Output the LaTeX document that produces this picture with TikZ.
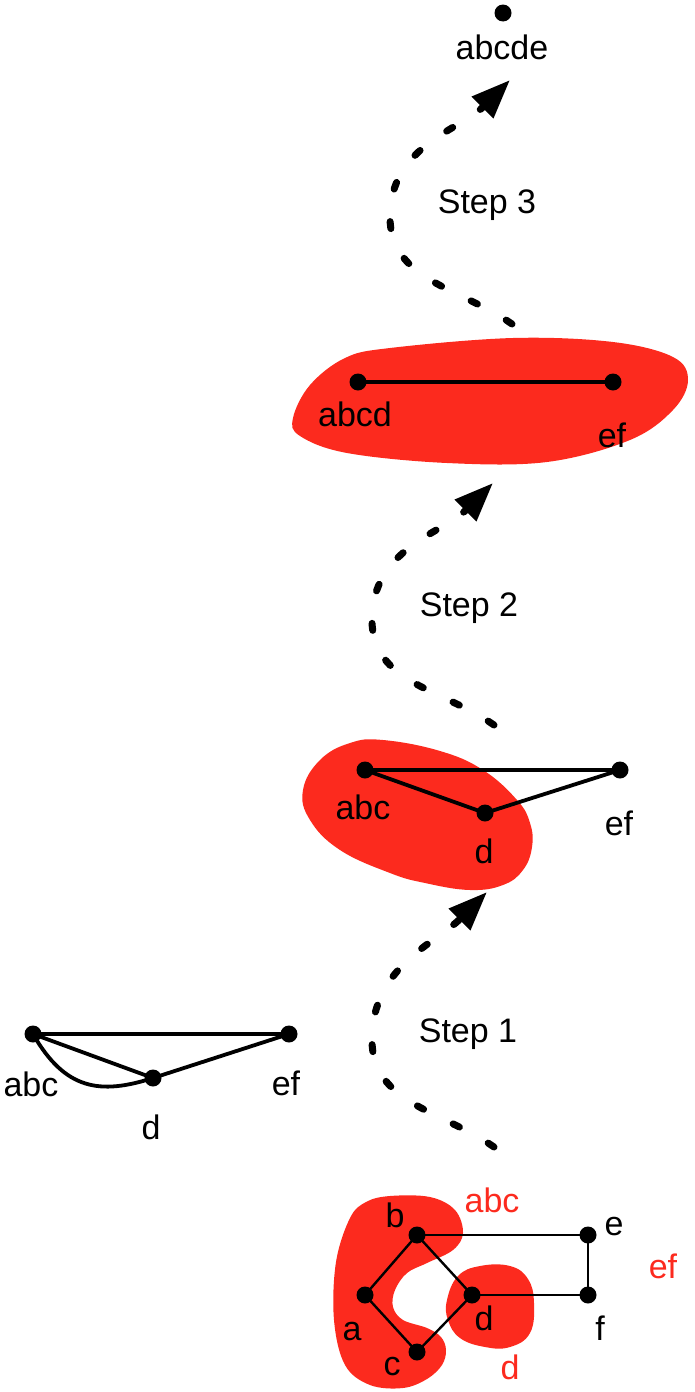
\documentclass[tikz,border=0pt]{standalone}
\usepackage{fontspec}
\setmainfont{Liberation Sans}
\usetikzlibrary{arrows.meta}
\definecolor{blobred}{RGB}{252,42,30}
\begin{document}
\begin{tikzpicture}[x=1pt,y=-1pt,
  dot/.style={circle,fill=black,inner sep=0pt,minimum size=17pt},
  sdot/.style={circle,fill=black,inner sep=0pt,minimum size=17pt},
  lbl/.style={inner sep=0pt,font=\fontsize{34}{40}\selectfont},
  rlbl/.style={lbl,text=blobred},
  thickedge/.style={line width=3.8pt},
  thinedge/.style={line width=2.4pt},
  blob/.style={fill=blobred,draw=none},
  stepline/.style={line width=7pt,line cap=round,dash pattern=on 7pt off 33pt,
    -{Triangle[length=39pt,width=29pt]}}]
\useasboundingbox (0,0) rectangle (694,1392);

% ---------- blobs ----------
\fill[blob] plot[smooth cycle,tension=0.6] coordinates {
  (390,1196) (430,1197) (455,1210) (463,1233) (453,1250) (427,1263)
  (407,1273) (395,1290) (393,1307) (403,1320) (427,1328) (441,1337)
  (446,1350) (442,1365) (427,1379) (403,1388) (370,1385) (345,1365)
  (334,1320) (336,1262) (350,1218) (366,1202)};
\fill[blob] plot[smooth cycle,tension=0.7] coordinates {
  (447,1300) (458,1276) (480,1266) (510,1266) (528,1279) (534,1303)
  (530,1333) (510,1347) (485,1347) (460,1338) (448,1320)};
\fill[blob] plot[smooth cycle,tension=0.7] coordinates {
  (383,740) (440,751) (483,770) (517,800) (530,823) (532,847) (523,870)
  (503,885) (470,890) (425,883) (390,873) (340,850) (310,820) (303,790)
  (320,760) (350,743)};
\fill[blob] plot[smooth cycle,tension=0.6] coordinates {
  (390,348) (513,338) (613,342) (673,357) (688,380) (673,410) (630,440)
  (547,462) (447,463) (347,453) (300,436) (293,418) (310,385) (345,358)};

% ---------- bottom graph ----------
\node[sdot] (b) at (417,1235) {};
\node[sdot] (e) at (588,1235) {};
\node[sdot] (a) at (365,1295) {};
\node[sdot] (d) at (472,1295) {};
\node[sdot] (f) at (588,1295) {};
\node[sdot] (c) at (417,1352) {};
\draw[thinedge] (b.center) -- (e.center) -- (f.center) -- (d.center);
\draw[thinedge] (b.center) -- (d.center) -- (c.center) -- (a.center) -- (b.center);
\node[lbl] (lb) at (395,1215) {b};
\node[lbl] (le) at (614,1227) {e};
\node[lbl] (la) at (352,1332) {a};
\node[lbl] (ld) at (484,1318) {d};
\node[lbl] (lf) at (600,1328) {f};
\node[lbl] (lc) at (392,1367) {c};
\node[rlbl] (rabc) at (492,1200) {abc};
\node[rlbl] (ref) at (663,1266) {ef};
\node[rlbl] (rd) at (510,1367) {d};

% ---------- left graph ----------
\node[dot] (Labc) at (33,1034) {};
\node[dot] (Lef) at (289,1034) {};
\node[dot] (Ld) at (153,1078) {};
\draw[thickedge] (Labc.center) -- (Lef.center);
\draw[thickedge] (Labc.center) -- (Ld.center) -- (Lef.center);
\draw[thickedge] (Labc.center) .. controls (65,1090) and (100,1095) .. (Ld.center);
\node[lbl] (lLabc) at (31,1084) {abc};
\node[lbl] (lLef) at (286,1083) {ef};
\node[lbl] (lLd) at (151,1127) {d};

% ---------- graph after step 1 ----------
\node[dot] (Mabc) at (365,770) {};
\node[dot] (Mef) at (620,770) {};
\node[dot] (Md) at (485,813) {};
\draw[thickedge] (Mabc.center) -- (Mef.center);
\draw[thickedge] (Mabc.center) -- (Md.center) -- (Mef.center);
\node[lbl] (lMabc) at (363,807) {abc};
\node[lbl] (lMef) at (619,823) {ef};
\node[lbl] (lMd) at (484,851) {d};

% ---------- graph after step 2 ----------
\node[dot] (Tabcd) at (358,382) {};
\node[dot] (Tef) at (613,382) {};
\draw[thickedge] (Tabcd.center) -- (Tef.center);
\node[lbl] (lTabcd) at (355,414) {abcd};
\node[lbl] (lTef) at (612,435) {ef};

% ---------- final ----------
\node[dot] (F) at (503,13) {};
\node[lbl] (lF) at (502,47) {abcde};

% ---------- steps ----------
\coordinate (s1a) at (494,1147);
\coordinate (s1m) at (372,1040);
\coordinate (s1b) at (487,892);
\draw[stepline] (s1a) to[out=145,in=-90] (s1m) to[out=90,in=225] (s1b);
\node[lbl] (st1) at (468,1034) {Step 1};

\coordinate (s2a) at (494,725);
\coordinate (s2m) at (372,620);
\coordinate (s2b) at (493,483);
\draw[stepline] (s2a) to[out=145,in=-90] (s2m) to[out=90,in=225] (s2b);
\node[lbl] (st2) at (469,608) {Step 2};

\coordinate (s3a) at (512,324);
\coordinate (s3m) at (390,217);
\coordinate (s3b) at (510,80);
\draw[stepline] (s3a) to[out=145,in=-90] (s3m) to[out=90,in=225] (s3b);
\node[lbl] (st3) at (487,205) {Step 3};
\end{tikzpicture}
\end{document}
